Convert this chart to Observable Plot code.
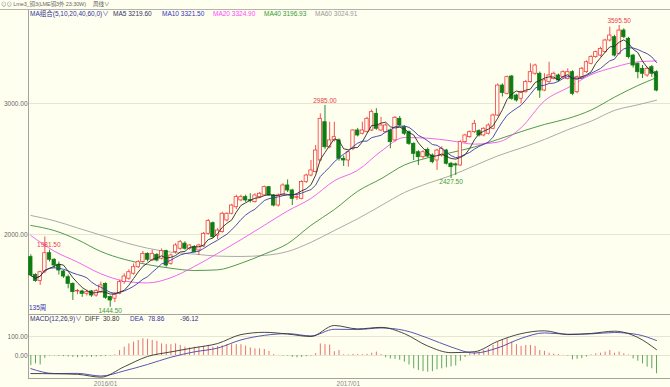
<!DOCTYPE html>
<html><head><meta charset="utf-8">
<script src="https://cdn.jsdelivr.net/npm/d3@7"></script>
<script src="https://cdn.jsdelivr.net/npm/@observablehq/plot@0.6"></script>
<style>
html,body{margin:0;padding:0;background:#fffff0;}
#wrap{position:relative;width:670px;height:387px;background:#fffff0;overflow:hidden;font-family:"Liberation Sans","Noto Sans CJK SC",sans-serif;}
.t{position:absolute;font-size:6.5px;white-space:nowrap;line-height:1;}
.plot{position:absolute;left:0;}
</style></head><body>
<div id="wrap">
  <div class="t" style="left:1px;top:2px;color:#666;font-size:5.5px;letter-spacing:-0.1px">⊙⊙ Lme3_铜3(LME铜3外 23:30W)</div>
  <div class="t" style="left:93px;top:2px;color:#555;font-size:5.5px">周线∨</div>
  <div style="position:absolute;left:0;top:9px;width:670px;height:1px;background:#b4b4aa"></div>
  <div id="main" class="plot" style="top:0"></div>
  <div id="macd" class="plot" style="top:313px"></div>
  <div class="t" style="left:30px;top:10.5px;color:#333399">MA组合(5,10,20,40,60,0)∨</div>
  <div class="t" style="left:113px;top:10.5px;color:#333366">MA5 3219.60</div>
  <div class="t" style="left:162px;top:10.5px;color:#3333bb">MA10 3321.50</div>
  <div class="t" style="left:213px;top:10.5px;color:#ff44ff">MA20 3324.90</div>
  <div class="t" style="left:264px;top:10.5px;color:#339933">MA40 3196.93</div>
  <div class="t" style="left:315px;top:10.5px;color:#999999">MA60 3024.91</div>
  <div class="t" style="left:29px;top:305px;color:#3333aa">135周</div>
  <div class="t" style="left:30px;top:316px;color:#333377">MACD(12,26,9)∨</div>
  <div class="t" style="left:85px;top:316px;color:#333333">DIFF</div>
  <div class="t" style="left:103px;top:316px;color:#333333">30.80</div>
  <div class="t" style="left:130px;top:316px;color:#333399">DEA</div>
  <div class="t" style="left:148px;top:316px;color:#333399">78.86</div>
  <div class="t" style="left:180px;top:316px;color:#333377">-96.12</div>
</div>
<script>
// ---- data (weekly candles, index 0..134) ----
const opens = [1827,1690,1645,1717,1857,1807,1769,1717,1674,1623,1565,1565,1547,1565,1534,1560,1623,1522,1510,1547,
1636,1662,1700,1750,1789,1852,1801,1844,1815,1873,1776,1865,1891,1930,1891,1903,1878,1908,2005,2086,
1992,2018,2107,2158,2208,2260,2285,2262,2247,2285,2298,2361,2298,2221,2298,2374,2336,2280,2272,2400,
2450,2476,2565,2857,2666,2718,2718,2578,2565,2654,2794,2769,2781,2794,2921,2794,2781,2794,2718,2883,
2819,2781,2692,2628,2590,2646,2603,2565,2603,2641,2540,2535,2527,2705,2743,2781,2789,2756,2769,2807,
2908,3137,3074,3206,3061,3036,3086,3163,3227,3227,3099,3163,3188,3214,3201,3188,3239,3086,3201,3239,
3303,3354,3366,3392,3481,3506,3379,3557,3494,3366,3303,3265,3214,3277,3239];
const highs = [1845,1700,1720,1981.5,1880,1815,1790,1725,1690,1630,1580,1575,1575,1572,1580,1636,1630,1530,1555,1650,
1700,1730,1775,1800,1870,1860,1880,1855,1890,1880,1850,1930,1954,1945,1920,1915,1925,2015,2115,2095,
2045,2170,2165,2230,2300,2300,2300,2311,2310,2320,2370,2365,2305,2310,2387,2417,2345,2300,2410,2460,
2565,2679,2921,2985,2857,2857,2730,2600,2640,2800,2810,2857,2895,2950,2960,2895,2845,2805,2900,2901,
2830,2790,2700,2640,2640,2660,2615,2650,2670,2650,2550,2545,2715,2765,2790,2870,2800,2815,2845,2920,
3150,3150,3210,3215,3070,3095,3175,3303,3300,3240,3227,3315,3240,3225,3250,3265,3250,3210,3275,3325,
3365,3400,3430,3490,3583,3520,3595.5,3570,3505,3375,3310,3290,3277,3290,3250];
const lows = [1680,1635,1611,1700,1790,1740,1690,1665,1585,1496,1540,1520,1530,1520,1522,1550,1505,1444.5,1480,1540,
1620,1650,1690,1740,1780,1790,1795,1790,1805,1750,1765,1850,1880,1880,1880,1860,1840,1900,1995,1970,
1960,2010,2095,2150,2190,2250,2245,2240,2240,2275,2290,2290,2210,2210,2290,2320,2221,2260,2265,2390,
2440,2470,2555,2650,2655,2705,2560,2519,2514,2640,2745,2760,2775,2785,2795,2785,2770,2654,2705,2820,
2755,2680,2565,2527,2575,2585,2540,2489,2590,2530,2427.5,2450,2520,2695,2735,2770,2745,2745,2760,2800,
2900,3050,3065,3025,3010,2997,3080,3155,3215,3040,3090,3155,3180,3165,3190,3180,3060,3075,3190,3230,
3295,3345,3355,3385,3470,3355,3370,3495,3340,3270,3188,3190,3200,3200,3090];
const closes = [1687,1645,1712,1857,1807,1763,1725,1679,1623,1560,1568,1547,1560,1534,1567,1611,1517,1496,1540,1636,
1679,1712,1750,1789,1852,1807,1852,1801,1873,1763,1840,1916,1941,1891,1916,1865,1916,2005,2102,1979,
2030,2158,2158,2221,2285,2285,2260,2255,2298,2311,2361,2298,2221,2298,2374,2336,2272,2285,2400,2450,
2489,2641,2883,2666,2718,2743,2578,2565,2628,2794,2756,2794,2883,2934,2807,2832,2832,2705,2891,2832,
2769,2692,2616,2590,2628,2595,2552,2641,2654,2540,2514,2527,2705,2756,2781,2845,2756,2807,2832,2908,
3137,3080,3201,3036,3023,3086,3163,3239,3290,3099,3176,3214,3227,3176,3239,3239,3074,3201,3265,3315,
3354,3392,3417,3481,3519,3366,3557,3506,3354,3290,3239,3227,3265,3227,3099];

const maIdx = [0,5,10,15,20,25,30,35,40,45,50,55,60,65,70,75,80,85,90,95,100,105,110,115,120,125,130,134];
const ma20 = [1992,1873,1789,1700,1645,1630,1670,1755,1855,1960,2070,2180,2275,2410,2490,2635,2740,2735,2715,2690,2705,2815,3020,3120,3220,3277,3318,3325];
const ma40 = [2069,2030,1960,1870,1810,1770,1742,1725,1730,1780,1850,1930,2070,2190,2330,2425,2530,2585,2625,2668,2725,2785,2840,2885,2950,3048,3137,3197];
const ma60 = [2145,2105,2050,1995,1940,1895,1865,1850,1835,1832,1840,1870,1940,2030,2120,2220,2320,2390,2450,2525,2600,2660,2725,2800,2865,2947,2990,3025];

// MACD(12,26,9)
const diff = [-95,-96,-99,-114,-59,-5,19,41,63,110,122,113,100,158,140,148,115,50,15,20,75,115,130,110,116,128,95,30.8];
const dea  = [-69,-95,-94,-108,-81,-47,-9,19,39,82,106,115,103,138,137,145,132,92,45,13,40,90,119,112,114,121,110,78.86];
const hist = [-53,-44,-50,-15,-3,-2,-4,-6,-8,-10,-12,-10,-8,-10,-8,-6,-5,-2,4,26,
44,61,70,79,88,85,79,75,61,57,57,61,53,44,40,44,44,48,53,44,
48,51,57,57,57,57,50,40,35,35,32,22,5,1,-2,-3,-10,-12,-10,-6,
-3,10,61,57,55,20,26,4,3,6,5,4,6,12,18,5,-12,-18,-20,-25,
-35,-50,-70,-79,-85,-88,-85,-75,-70,-65,-60,-55,-30,-10,9,15,18,26,35,53,
70,82,88,70,57,48,53,53,48,26,22,12,8,5,1,-3,-23,-20,-16,-8,
3,9,12,18,26,12,18,9,3,-18,-30,-44,-61,-70,-96.12];

const yTicks = [2000, 3000];
const macdTicks = [0, 100];
const dateIdx = [16, 68];
const dateLabels = ["2016/01", "2017/01"];
const markIdx = [63, 126];          // highs labelled above
const lowIdx = [17, 90];            // lows labelled below
const leftHighIdx = [3];            // high labelled beside

// ---- build tables ----
const candles = closes.map((c, i) => ({i, open: opens[i], high: highs[i], low: lows[i], close: c, up: c >= opens[i]}));
const maRows = (arr) => maIdx.map((i, k) => ({i, v: arr[k]}));
const histRows = hist.map((v, i) => ({i, v}));
const fmt = d => d.toFixed(2);

const RED = "#f23c3c", GREEN = "#0f7d12", BG = "#fffff0";
const xDomain = [-0.5, 137];
const font = '"Liberation Sans","Noto Sans CJK SC",sans-serif';

const main = Plot.plot({
  width: 670, height: 314, marginTop: 10, marginBottom: 0, marginLeft: 28, marginRight: 0,
  style: {background: "transparent", color: "#666", fontFamily: font, fontSize: "6.5px", overflow: "visible"},
  x: {domain: xDomain, axis: null},
  y: {domain: [1389, 3710]},
  color: {type: "identity"},
  marks: [
    Plot.ruleY(yTicks, {stroke: "#e6e5cf"}),
    Plot.ruleX([-0.5], {stroke: "#a4a49c"}),
    Plot.axisY({ticks: yTicks, tickFormat: fmt, tickSize: 0, tickPadding: 1, fontSize: 6.5, label: null, fill: "#666"}),
    Plot.lineY(maRows(ma60), {x: "i", y: "v", stroke: "#a0a0a0", strokeWidth: 0.9, curve: "monotone-x"}),
    Plot.lineY(maRows(ma40), {x: "i", y: "v", stroke: "#3b8f3b", strokeWidth: 0.9, curve: "monotone-x"}),
    Plot.lineY(maRows(ma20), {x: "i", y: "v", stroke: "#ee55ee", strokeWidth: 0.9, curve: "monotone-x"}),
    Plot.ruleX(candles, {x: "i", y1: "low", y2: "high", stroke: d => d.up ? RED : GREEN, strokeWidth: 0.9}),
    Plot.rect(candles, {x1: d => d.i - 0.36, x2: d => d.i + 0.36, y1: "open", y2: "close",
      fill: d => d.up ? BG : GREEN, stroke: d => d.up ? RED : GREEN, strokeWidth: 0.8}),
    Plot.lineY(candles, Plot.windowY({k: 10, anchor: "end"}, {x: "i", y: "close", stroke: "#3a3aa8", strokeWidth: 0.9})),
    Plot.lineY(candles, Plot.windowY({k: 5, anchor: "end"}, {x: "i", y: "close", stroke: "#2a2a2a", strokeWidth: 0.9})),
    Plot.text(candles.filter(d => markIdx.includes(d.i)), {x: "i", y: "high", text: d => fmt(d.high), fill: "#e8404a", lineAnchor: "bottom", dy: -2, fontSize: 6.5}),
    Plot.text(candles.filter(d => leftHighIdx.includes(d.i)), {x: "i", y: "high", text: d => fmt(d.high), fill: "#e8404a", lineAnchor: "top", dy: 5, dx: 4, fontSize: 6.5}),
    Plot.text(candles.filter(d => lowIdx.includes(d.i)), {x: "i", y: "low", text: d => fmt(d.low), fill: "#3a9a3a", lineAnchor: "top", dy: 1, fontSize: 6.5})
  ]
});
document.getElementById("main").appendChild(main);

const macd = Plot.plot({
  width: 670, height: 74, marginTop: 1, marginBottom: 9, marginLeft: 28, marginRight: 0,
  style: {background: "transparent", color: "#666", fontFamily: font, fontSize: "6.5px", overflow: "visible"},
  x: {domain: xDomain},
  y: {domain: [-121, 215.8]},
  color: {type: "identity"},
  marks: [
    Plot.ruleY(macdTicks, {stroke: "#e6e5cf"}),
    Plot.ruleY([215.8, -121], {stroke: "#a4a49c"}),
    Plot.ruleX([-0.5], {stroke: "#a4a49c"}),
    Plot.axisY({ticks: macdTicks, tickFormat: fmt, tickSize: 0, tickPadding: 1, fontSize: 6.5, label: null, fill: "#666"}),
    Plot.axisX({ticks: dateIdx, tickFormat: d => dateLabels[dateIdx.indexOf(d)], tickSize: 0, tickPadding: 3, fontSize: 6.5, label: null, fill: "#888"}),
    Plot.ruleX(histRows, {x: "i", y1: 0, y2: "v", stroke: d => d.v >= 0 ? "#e86060" : "#4a9e4a", strokeWidth: 0.9}),
    Plot.lineY(maRows(dea), {x: "i", y: "v", stroke: "#4444aa", strokeWidth: 0.9, curve: "monotone-x"}),
    Plot.lineY(maRows(diff), {x: "i", y: "v", stroke: "#333333", strokeWidth: 0.9, curve: "monotone-x"})
  ]
});
document.getElementById("macd").appendChild(macd);
</script>
</body></html>
